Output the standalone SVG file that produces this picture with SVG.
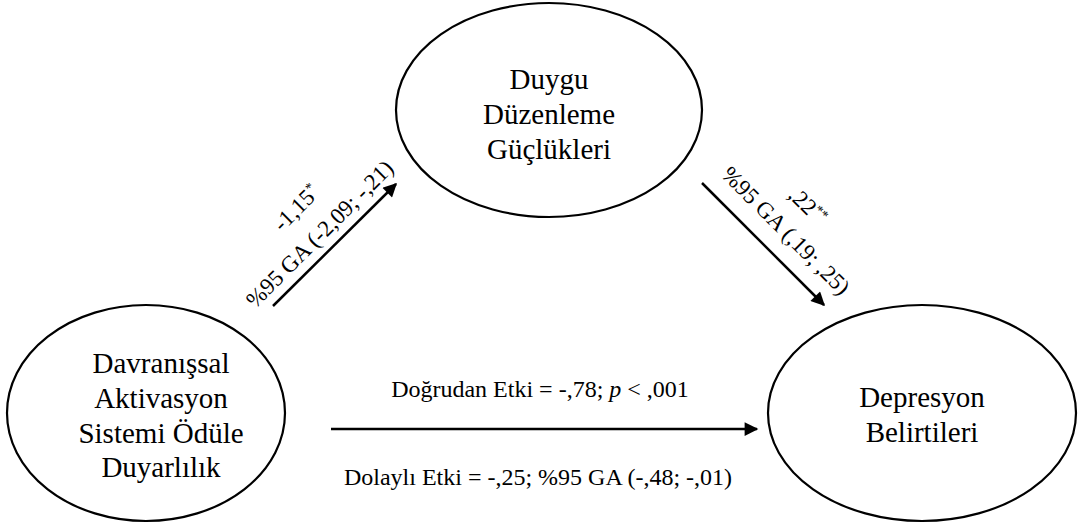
<svg xmlns="http://www.w3.org/2000/svg" width="1080" height="530" viewBox="0 0 1080 530">
<style>
.node{fill:#fff;stroke:#000;stroke-width:2.2}
.nt{font-family:"Liberation Serif","Times New Roman",serif;font-size:29px;fill:#000;text-anchor:middle}
.lb{font-family:"Liberation Serif","Times New Roman",serif;font-size:24px;fill:#000;text-anchor:middle}
.rl{font-family:"Liberation Serif","Times New Roman",serif;font-size:23px;fill:#000;text-anchor:middle}
.sup{font-size:14px}
.conn{stroke:#000;stroke-width:2.5;fill:none;marker-end:url(#ah)}
</style>
<defs>
<marker id="ah" viewBox="0 0 10 10" refX="9" refY="5" markerWidth="6.5" markerHeight="5.5" markerUnits="strokeWidth" orient="auto">
<path d="M0,0 L10,5 L0,10 z" fill="#000"/>
</marker>
</defs>
<rect width="1080" height="530" fill="#fff"/>
<g id="node-duygu">
<ellipse class="node" cx="549" cy="110" rx="153" ry="107"/>
<text class="nt" x="549" y="89">Duygu</text>
<text class="nt" x="549" y="124">Düzenleme</text>
<text class="nt" x="549" y="159">Güçlükleri</text>
</g>
<g id="node-das">
<ellipse class="node" cx="146" cy="413" rx="139" ry="108"/>
<text class="nt" x="161" y="373">Davranışsal</text>
<text class="nt" x="161" y="408">Aktivasyon</text>
<text class="nt" x="161" y="443">Sistemi Ödüle</text>
<text class="nt" x="161" y="477">Duyarlılık</text>
</g>
<g id="node-depresyon">
<ellipse class="node" cx="922" cy="413" rx="154" ry="108"/>
<text class="nt" x="922" y="407">Depresyon</text>
<text class="nt" x="922" y="442">Belirtileri</text>
</g>
<g id="connectors">
<line class="conn" x1="273" y1="306" x2="396" y2="184"/>
<line class="conn" x1="702" y1="183" x2="824" y2="305"/>
<line class="conn" x1="331" y1="429" x2="757" y2="429"/>
</g>
<g id="labels">
<g transform="translate(335,245) rotate(-45)">
<text class="rl" x="-3" y="-11">%95 GA (-2,09; -,21)</text>
<text class="rl" x="-1" y="-46">-1,15<tspan class="sup" dy="-8">*</tspan></text>
</g>
<g transform="translate(763.5,244.5) rotate(45)">
<text class="rl" x="6" y="-18">%95 GA (,19; ,25)</text>
<text class="rl" x="4" y="-51">,22<tspan class="sup" dy="-8">**</tspan></text>
</g>
<text class="lb" x="540" y="397">Doğrudan Etki = -,78; <tspan font-style="italic">p</tspan> &lt; ,001</text>
<text class="lb" x="538" y="485">Dolaylı Etki = -,25; %95 GA (-,48; -,01)</text>
</g>
</svg>
